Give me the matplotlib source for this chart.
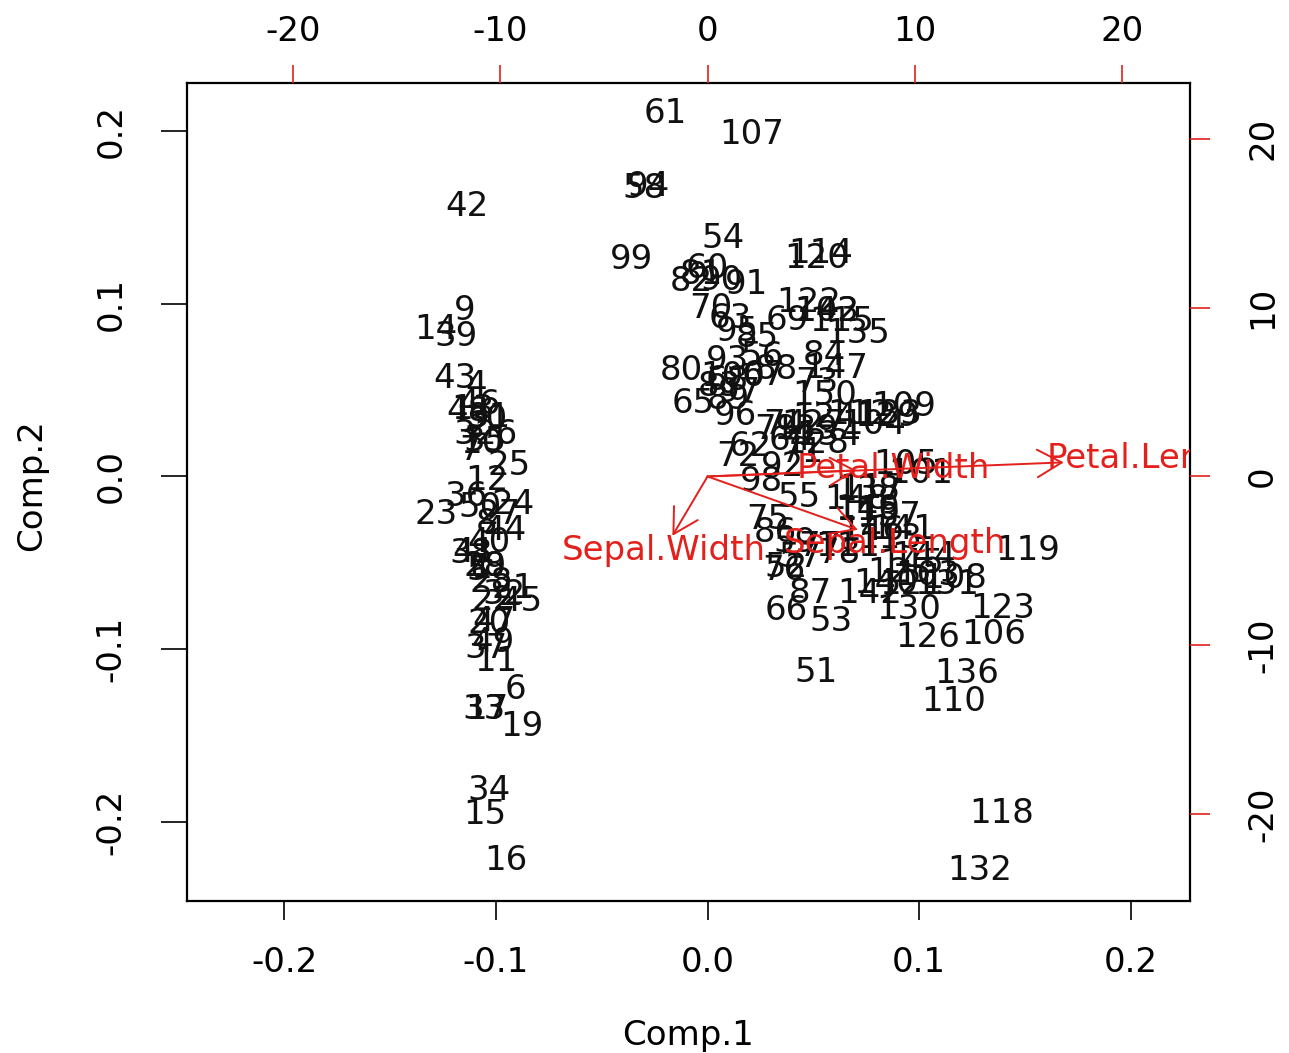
import numpy as np
import matplotlib
matplotlib.use("Agg")
import matplotlib.pyplot as plt
from matplotlib.patches import FancyArrowPatch

# Observation scores (Comp.1, Comp.2), labelled 1..150
comp1 = [-0.1069, -0.1081, -0.1151, -0.1094, -0.1087, -0.0909, -0.1124, -0.1046, -0.1150, -0.1065,
         -0.0999, -0.1041, -0.1110, -0.1284, -0.1054, -0.0951, -0.1045, -0.1055, -0.0876, -0.1031,
         -0.0920, -0.1013, -0.1281, -0.0917, -0.0939, -0.0999, -0.0984, -0.1021, -0.1052, -0.1049,
         -0.1031, -0.0960, -0.1055, -0.1035, -0.1051, -0.1142, -0.1046, -0.1116, -0.1187, -0.1032,
         -0.1104, -0.1135, -0.1194, -0.0958, -0.0880, -0.1081, -0.1011, -0.1131, -0.1013, -0.1077,
         0.0512, 0.0372, 0.0583, 0.0073, 0.0434, 0.0256, 0.0436, -0.0298, 0.0416, -0.0003,
         -0.0202, 0.0204, 0.0106, 0.0392, -0.0069, 0.0370, 0.0263, 0.0094, 0.0376, 0.0018,
         0.0445, 0.0143, 0.0517, 0.0367, 0.0285, 0.0359, 0.0531, 0.0621, 0.0324, -0.0122,
         -0.0027, -0.0076, 0.0054, 0.0550, 0.0234, 0.0321, 0.0486, 0.0325, 0.0098, 0.0066,
         0.0185, 0.0355, 0.0092, -0.0281, 0.0142, 0.0132, 0.0150, 0.0256, -0.0361, 0.0119,
         0.1008, 0.0564, 0.1043, 0.0785, 0.0936, 0.1353, 0.0208, 0.1168, 0.0925, 0.1162,
         0.0662, 0.0718, 0.0863, 0.0536, 0.0632, 0.0759, 0.0777, 0.1389, 0.1512, 0.0518,
         0.0967, 0.0478, 0.1394, 0.0553, 0.0907, 0.1041, 0.0501, 0.0514, 0.0846, 0.0951,
         0.1132, 0.1287, 0.0860, 0.0575, 0.0710, 0.1226, 0.0854, 0.0759, 0.0466, 0.0840,
         0.0922, 0.0766, 0.0564, 0.1021, 0.0964, 0.0775, 0.0608, 0.0703, 0.0757, 0.0554]
comp2 = [-0.0531, 0.0294, 0.0241, 0.0529, -0.0543, -0.1233, 0.0149, -0.0272, 0.0962, 0.0189,
         -0.1073, -0.0024, 0.0391, 0.0850, -0.1960, -0.2225, -0.1348, -0.0519, -0.1452, -0.0854,
         -0.0651, -0.0720, -0.0222, -0.0164, 0.0062, 0.0243, -0.0218, -0.0612, -0.0519, 0.0328,
         0.0340, -0.0683, -0.1353, -0.1818, 0.0202, -0.0115, -0.0997, -0.0447, 0.0811, -0.0381,
         -0.0438, 0.1565, 0.0569, -0.0314, -0.0726, 0.0416, -0.0838, 0.0379, -0.0964, -0.0179,
         -0.1139, -0.0529, -0.0839, 0.1377, -0.0124, 0.0696, -0.0471, 0.1671, -0.0380, 0.1203,
         0.2105, 0.0173, 0.0915, 0.0208, 0.0424, -0.0777, 0.0587, 0.0555, 0.0903, 0.0971,
         0.0141, 0.0115, 0.0545, 0.0304, -0.0248, -0.0546, -0.0407, -0.0445, 0.0272, 0.0612,
         0.1173, 0.1131, 0.0522, 0.0700, 0.0805, -0.0323, -0.0678, 0.0619, 0.0447, 0.1134,
         0.1115, 0.0057, 0.0673, 0.1683, 0.0840, 0.0354, 0.0488, -0.0029, 0.1257, 0.0580,
         0.0016, 0.0956, -0.0572, 0.0299, 0.0067, -0.0916, 0.1984, -0.0591, 0.0405, -0.1302,
         -0.0403, 0.0359, -0.0360, 0.1292, 0.0897, -0.0198, -0.0070, -0.1955, -0.0428, 0.1266,
         -0.0629, 0.1008, -0.0766, 0.0340, -0.0557, -0.0933, 0.0299, 0.0194, 0.0349, -0.0773,
         -0.0624, -0.2285, 0.0361, 0.0238, 0.0831, -0.1144, -0.0233, -0.0082, 0.0274, -0.0619,
         -0.0305, -0.0681, 0.0956, -0.0462, -0.0507, -0.0312, 0.0624, -0.0131, -0.0194, 0.0470]

# Variable vectors (top / right axis units)
var_names = ["Sepal.Length", "Sepal.Width", "Petal.Length", "Petal.Width"]
var_c1 = [9.071, -2.122, 21.502, 8.993]
var_c2 = [-3.948, -4.391, 1.043, 0.454]

score_ticks = [-0.2, -0.1, 0.0, 0.1, 0.2]
score_ticklabels = ["-0.2", "-0.1", "0.0", "0.1", "0.2"]
var_ticks = [-20, -10, 0, 10, 20]
var_ticklabels = ["-20", "-10", "0", "10", "20"]

c1 = np.array(comp1); c2 = np.array(comp2)
v1 = np.array(var_c1); v2 = np.array(var_c2)

RED = "#e3201b"
plt.rcParams["font.family"] = "DejaVu Sans"
plt.rcParams["axes.unicode_minus"] = False
FS = 24.5

fig = plt.figure(figsize=(12.89, 10.53), dpi=100)
pos = [187/1289, 1-901/1053, (1190-187)/1289, (901-83)/1053]
ax = fig.add_axes(pos)

# R biplot-style common limits with 4% expansion
lo = min(-abs(c1.min()), -abs(c2.min()))
hi = max(abs(c1.max()), abs(c2.max()))
ext = 0.04*(hi-lo)
lim = (lo-ext, hi+ext)
ax.set_xlim(lim); ax.set_ylim(lim)
for i in range(len(c1)):
    ax.text(c1[i], c2[i], str(i+1), ha="center", va="center", fontsize=FS,
            color="#111111", clip_on=True)
ax.set_xticks(score_ticks); ax.set_xticklabels(score_ticklabels)
ax.set_yticks(score_ticks); ax.set_yticklabels(score_ticklabels, rotation=90, va="center")
ax.tick_params(axis="x", length=13.5, width=1.2, pad=19, labelsize=FS)
ax.tick_params(axis="y", length=19, width=1.2, pad=24, labelsize=FS)
for s in ax.spines.values():
    s.set_linewidth(1.6)
ax.set_xlabel("Comp.1", fontsize=FS)
ax.set_ylabel("Comp.2", fontsize=FS)
ax.xaxis.label.set_va("center")
ax.xaxis.set_label_coords(0.5, (901-1036)/818)
ax.yaxis.label.set_va("center"); ax.yaxis.label.set_ha("center")
ax.yaxis.set_label_coords((32-187)/1003, (901-485)/818)

ratio = max(v1.max()/hi, abs(v1.min())/abs(lo), v2.max()/hi, abs(v2.min())/abs(lo))
av = fig.add_axes(pos, frameon=False)
av.patch.set_visible(False)
av.set_xlim(lim[0]*ratio, lim[1]*ratio); av.set_ylim(lim[0]*ratio, lim[1]*ratio)
av.xaxis.tick_top(); av.yaxis.tick_right()
av.set_xticks(var_ticks); av.set_xticklabels(var_ticklabels)
av.set_yticks(var_ticks); av.set_yticklabels(var_ticklabels, rotation=90, va="center")
av.tick_params(axis="x", length=13, width=1.2, pad=12, labelsize=FS, color=RED)
av.tick_params(axis="y", length=14.5, width=1.2, pad=26, labelsize=FS, color=RED)
for j in range(len(var_names)):
    a = FancyArrowPatch((0, 0), (0.8*v1[j], 0.8*v2[j]),
                        arrowstyle="->,head_length=0.8,head_width=0.45",
                        mutation_scale=22, color=RED, lw=1.4, shrinkA=0, shrinkB=0, clip_on=True)
    av.add_patch(a)
    av.text(v1[j], v2[j], var_names[j], ha="center", va="center", fontsize=FS,
            color=RED, clip_on=True)

fig.savefig("out.png", dpi=100)
